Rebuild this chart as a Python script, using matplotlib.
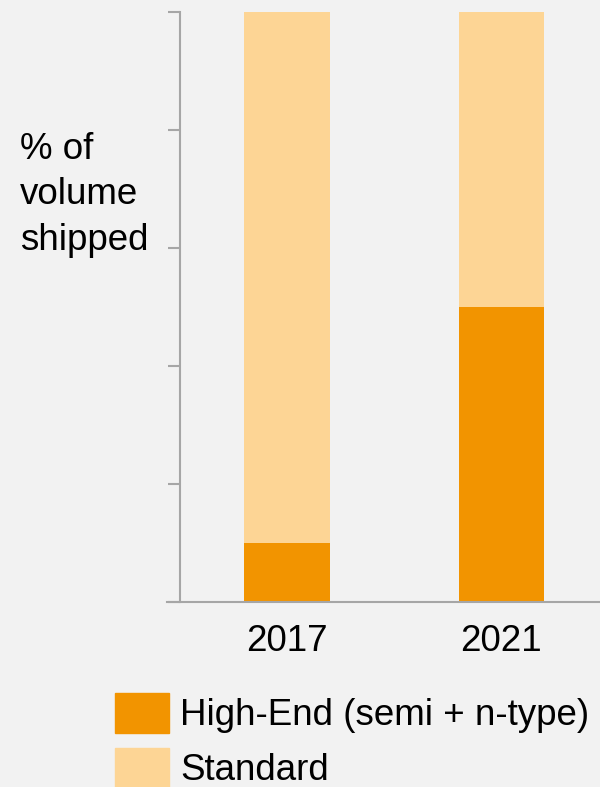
import matplotlib.pyplot as plt
import matplotlib.patches as mpatches

plt.rcParams['font.family'] = ['Liberation Sans', 'DejaVu Sans']

years = ['2017', '2021']
high_end = [10, 50]
standard = [90, 50]
labels = ['High-End (semi + n-type)', 'Standard']
dark = '#f29400'
light = '#fdd595'
bg = '#f2f2f2'
fs = 26.5

fig = plt.figure(figsize=(6, 7.87), dpi=100, facecolor=bg)
ax = fig.add_axes([0.3, 0.235, 0.7, 0.75], facecolor=bg)

x = range(len(years))
ax.bar(x, high_end, width=0.4, color=dark)
ax.bar(x, standard, width=0.4, bottom=high_end, color=light)

ax.set_xlim(-0.5, 1.46)
ax.set_ylim(0, 100)
ax.set_yticks([0, 20, 40, 60, 80, 100])
ax.set_yticklabels([])
ax.set_xticks(list(x))
ax.set_xticklabels(years, fontsize=fs)
ax.tick_params(axis='x', length=0, pad=16)
ax.tick_params(axis='y', length=9, width=1.5, color='#a6a6a6')
for s in ['top', 'right']:
    ax.spines[s].set_visible(False)
for s in ['left', 'bottom']:
    ax.spines[s].set_color('#a6a6a6')
    ax.spines[s].set_linewidth(1.5)
ax.spines['bottom'].set_bounds(-0.56, 1.46)

fig.text(20 / 600, 1 - 195 / 787, '% of\nvolume\nshipped', fontsize=fs,
         ha='left', va='center', linespacing=1.39)

handles = [mpatches.Patch(color=dark), mpatches.Patch(color=light)]
fig.legend(handles, labels, loc='upper left', bbox_to_anchor=(115 / 600, 1 - 693 / 787),
           frameon=False, fontsize=fs, handlelength=1.47, handleheight=1.295,
           handletextpad=0.3, labelspacing=0.4, borderaxespad=0, borderpad=0)

fig.savefig('out.png', facecolor=bg)
